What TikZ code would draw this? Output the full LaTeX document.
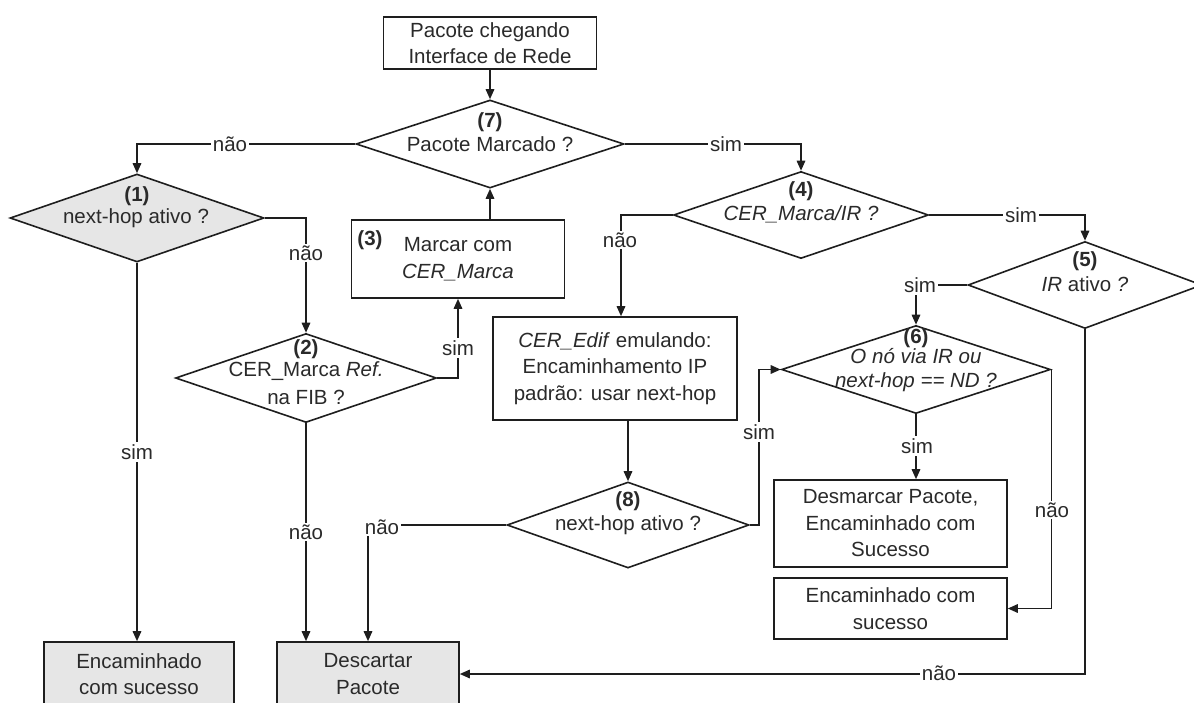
\documentclass[tikz,border=0pt]{standalone}
\usepackage{fontspec}
\setmainfont{Liberation Sans}
\usetikzlibrary{shapes.geometric,arrows.meta,calc}

\definecolor{ink}{HTML}{1E1E1E}
\definecolor{txtc}{HTML}{2A2A2A}
\definecolor{shade}{HTML}{E6E6E6}

\tikzset{
  every node/.style={font=\fontsize{20.5}{26.5}\selectfont, text=txtc},
  box/.style={draw=ink, rectangle, line width=1.6pt, align=center, inner sep=0pt},
  dia/.style={draw=ink, diamond, line width=1.6pt, inner sep=0pt},
  txt/.style={inner sep=0pt, align=center},
  lbl/.style={fill=white, inner sep=2pt},
  ln/.style={draw=ink, line width=1.6pt},
  arr/.style={ln, -{Triangle[length=10pt,width=8.5pt]}},
}

\begin{document}
\begin{tikzpicture}[x=1pt,y=-1pt]
\useasboundingbox (0,0) rectangle (1194,702);
\clip (0,0) rectangle (1194,702);
\fill[white] (0,0) rectangle (1194,702);

% ---- process boxes ----
\node[box, minimum width=213pt, minimum height=52pt] (start) at (490,43)
  {Pacote chegando\\Interface de Rede};
\node[box, minimum width=213pt, minimum height=78pt] (box3) at (458,259)
  {Marcar com\\\textit{CER\_Marca}};
\node[box, minimum width=244pt, minimum height=103pt] (edif) at (615,368.5)
  {\textit{CER\_Edif} emulando:\\Encaminhamento IP\\padrão: usar next-hop};
\node[box, minimum width=233pt, minimum height=87pt] (desm) at (890.5,523.5)
  {Desmarcar Pacote,\\Encaminhado com\\Sucesso};
\node[box, minimum width=233pt, minimum height=61pt] (enc2) at (890.5,608.5)
  {Encaminhado com\\sucesso};
\node[box, fill=shade, minimum width=190pt, minimum height=64pt] (enc1) at (139,674)
  {Encaminhado\\com sucesso};
\node[box, fill=shade, minimum width=182pt, minimum height=64pt] (desc) at (368,674)
  {Descartar\\Pacote};
\node[txt] (n3) at (370,240) {\textbf{(3)}};

% ---- decisions ----
\node[dia, minimum width=268pt, minimum height=88pt] (d7) at (490,144) {};
\node[dia, fill=shade, minimum width=254pt, minimum height=88pt] (d1) at (137,218) {};
\node[dia, minimum width=255pt, minimum height=87pt] (d4) at (801,215) {};
\node[dia, minimum width=234pt, minimum height=87pt] (d5) at (1085,285) {};
\node[dia, minimum width=261pt, minimum height=89pt] (d2) at (306,378) {};
\node[dia, minimum width=242pt, minimum height=86pt] (d8) at (628,525) {};
\node[dia, minimum width=269pt, minimum height=88pt] (d6) at (916,369.5) {};

% ---- decision texts ----
\node[txt] (t7a) at (490,122) {\textbf{(7)}};
\node[txt] (t7b) at (490,144) {Pacote Marcado ?};
\node[txt] (t1a) at (137,196) {\textbf{(1)}};
\node[txt] (t1b) at (136,218) {next-hop ativo ?};
\node[txt] (t4a) at (801,191) {\textbf{(4)}};
\node[txt] (t4b) at (801,214) {\textit{CER\_Marca/IR ?}};
\node[txt] (t5a) at (1085,261) {\textbf{(5)}};
\node[txt] (t5b) at (1085,284) {\textit{IR} ativo \textit{?}};
\node[txt] (t2a) at (306,349) {\textbf{(2)}};
\node[txt] (t2b) at (306,371) {CER\_Marca \textit{Ref.}};
\node[txt] (t2c) at (306,397) {na FIB ?};
\node[txt] (t8a) at (628,501) {\textbf{(8)}};
\node[txt] (t8b) at (628,525) {next-hop ativo ?};
\node[txt] (t6a) at (916,338) {\textbf{(6)}};
\node[txt] (t6b) at (916,356) {\textit{O nó via IR ou}};
\node[txt] (t6c) at (916,382) {\textit{next-hop == ND ?}};

% ---- connectors ----
\coordinate (xno4) at (621,0);
\draw[arr] (start.south) -- (d7.north);
\draw[arr] (d7.west) -| (d1.north);
\draw[arr] (d7.east) -| (d4.north);
\draw[arr] (d1.east) -| (d2.north);
\draw[arr] (d1.south) -- (d1.south |- enc1.north);
\draw[arr] (d2.east) -| (box3.south);
\draw[arr] (box3.north -| d7.south) -- (d7.south);
\draw[arr] (d2.south) -- (d2.south |- desc.north);
\draw[arr] (d8.west) -| (desc.north);
\draw[arr] (d4.west) -| (edif.north -| xno4);
\draw[arr] (edif.south -| d8.north) -- (d8.north);
\draw[arr] (d4.east) -| (d5.north);
\draw[arr] (d5.west) -| (d6.north);
\draw[arr] (d8.east) -- ++(9,0) |- (d6.west);
\draw[arr] (d6.south) -- (d6.south |- desm.north);
\draw[arr] (d6.east) |- (enc2.east);
\draw[arr] (d5.south) |- (desc.east);

% ---- branch labels ----
\node[lbl] (l1) at (230,144) {não};
\node[lbl] (l2) at (726,144) {sim};
\node[lbl] (l3) at (306,253) {não};
\node[lbl] (l4) at (137,452) {sim};
\node[lbl] (l5) at (458,348) {sim};
\node[lbl] (l6) at (306,532) {não};
\node[lbl] (l7) at (382,527) {não};
\node[lbl] (l8) at (620,240) {não};
\node[lbl] (l9) at (1021,215) {sim};
\node[lbl] (l10) at (920,285) {sim};
\node[lbl] (l11) at (759,432) {sim};
\node[lbl] (l12) at (917,446) {sim};
\node[lbl] (l13) at (1052,510) {não};
\node[lbl] (l14) at (939,673) {não};
\end{tikzpicture}
\end{document}
